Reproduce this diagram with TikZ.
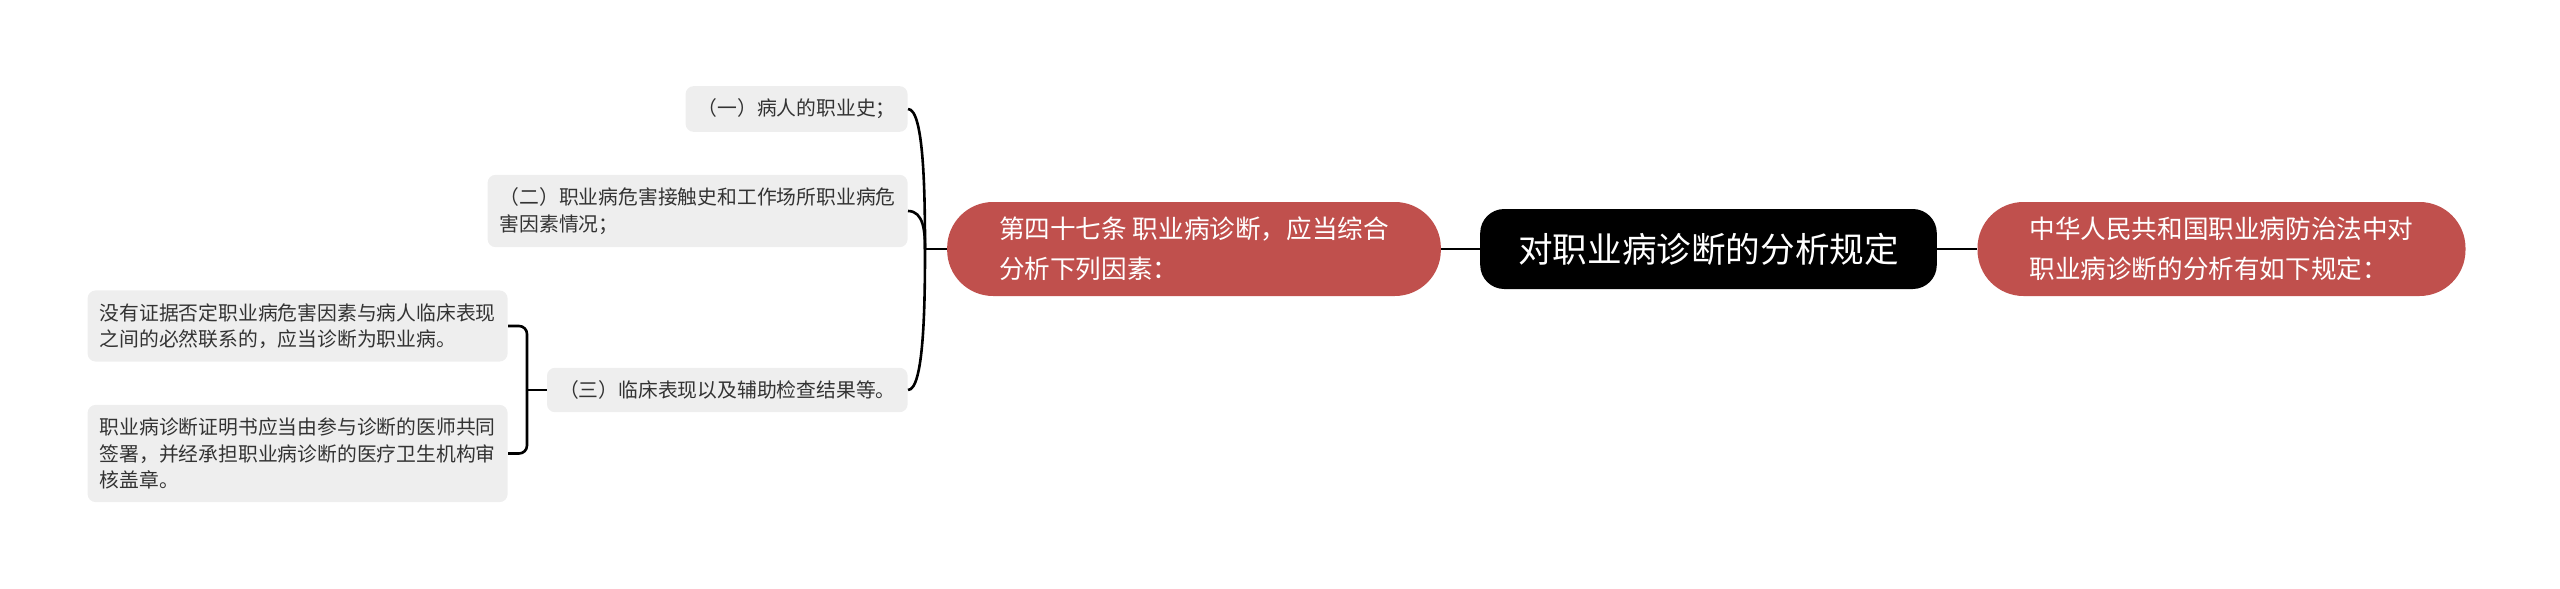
\documentclass[tikz,border=0pt]{standalone}
\usepackage{fontspec}
\setmainfont{Noto Sans CJK SC}
\usepackage{tikz}
\definecolor{nodered}{HTML}{C0504D}
\definecolor{leafgray}{HTML}{EEEEEE}
\definecolor{leaftext}{HTML}{333333}

\begin{document}
\begin{tikzpicture}[x=0.5pt, y=-0.5pt,
    rootbox/.style={fill=black, text=white, rounded corners=12pt, inner xsep=19pt,
      minimum height=40pt, font=\fontsize{17.3pt}{20pt}\selectfont},
    redbox/.style={fill=nodered, text=white, rounded corners=23pt, inner xsep=26pt,
      minimum height=47pt, align=left, font=\fontsize{12.8pt}{20pt}\selectfont},
    leafbox/.style={fill=leafgray, text=leaftext, rounded corners=4pt, anchor=east,
      align=left, inner xsep=6pt, inner ysep=6.4pt, font=\fontsize{9.9pt}{13.3pt}\selectfont},
    link/.style={line width=1.3pt}]
      \useasboundingbox (0,0) rectangle (2560,589);
      \node[rootbox] (root) at (1708.5, 249) {对职业病诊断的分析规定};
      \node[redbox]  (law)  at (2221.5, 249) {中华人民共和国职业病防治法中对\\职业病诊断的分析有如下规定：};
      \node[redbox]  (art)  at (1194, 249)   {第四十七条 职业病诊断，应当综合\\分析下列因素：};
      % factors, right edges lined up
      \node[leafbox] (f1) at (908, 109) {（一）病人的职业史；};
      \node[leafbox] (f2) at (908, 211) {（二）职业病危害接触史和工作场所职业病危\\害因素情况；};
      \node[leafbox] (f3) at (908, 390) {（三）临床表现以及辅助检查结果等。};
      \node[leafbox] (f31) at (508, 326) {没有证据否定职业病危害因素与病人临床表现\\之间的必然联系的，应当诊断为职业病。};
      \node[leafbox] (f32) at (508, 453.5) {职业病诊断证明书应当由参与诊断的医师共同\\签署，并经承担职业病诊断的医疗卫生机构审\\核盖章。};
      \coordinate (j1) at (925, 249);
      \coordinate (j2) at (527, 390);
      \draw[link] (root) -- (art);
      \draw[link] (root) -- (law);
      % curved branches from the article node
      \draw[link] (art) -- (j1);
      \draw[link] (j1) to[out=90, in=0, in distance=8pt] (f1.east);
      \draw[link] (j1) to[out=90, in=0, in distance=8pt] (f2.east);
      \draw[link] (j1) to[out=-90, in=0, in distance=8pt] (f3.east);
      % bracket for the third factor
      \draw[link] (f3) -- (j2);
      \draw[link, rounded corners=4pt] (j2) |- (f31.east);
      \draw[link, rounded corners=4pt] (j2) |- (f32.east);
    \end{tikzpicture}
\end{document}
